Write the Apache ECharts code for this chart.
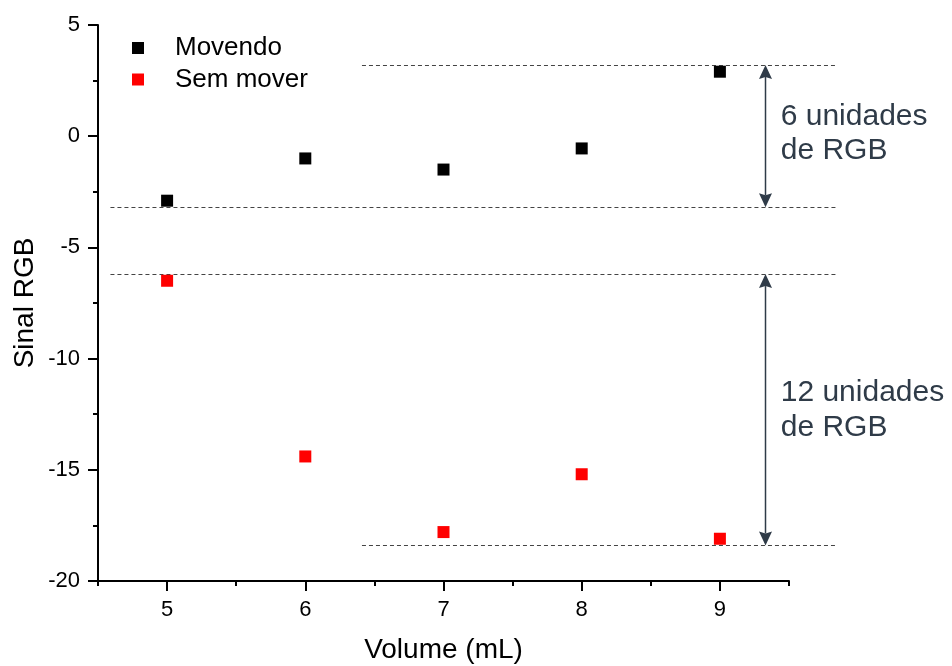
<!DOCTYPE html>
<html>
<head>
<meta charset="utf-8">
<script src="https://cdn.jsdelivr.net/npm/echarts@6/dist/echarts.min.js"></script>
<style>html,body{margin:0;padding:0;background:#fff}#c{width:952px;height:666px}</style>
</head>
<body>
<div id="c"></div>
<script>
// ---- data ----
const volumes = [5, 6, 7, 8, 9];
const movendo = [-2.9, -1.0, -1.5, -0.55, 2.9];
const semMover = [-6.5, -14.4, -17.8, -15.2, -18.1];
const xTickLabels = [5, 6, 7, 8, 9];
const yTicks = [-20, -15, -10, -5, 0, 5];
// reference (dashed) lines: [xStart, xEnd, y]
const refLines = [
  [6.41, 9.84, 3.2],
  [4.59, 9.84, -3.2],
  [4.59, 9.84, -6.2],
  [6.41, 9.84, -18.4]
];
// double arrows: [x, yTop, yBottom]
const arrows = [
  [9.33, 3.2, -3.2],
  [9.33, -6.2, -18.4]
];
// annotation texts: [x, y, text]
const notes = [
  [9.44, 0.1, '6 unidades\nde RGB'],
  [9.44, -12.32, '12 unidades\nde RGB']
];

const FONT = 'Liberation Sans';
const annColor = '#2f3b48';

const series = [
  {
    name: 'Movendo', type: 'scatter', symbol: 'rect', symbolSize: 12,
    itemStyle: {color: '#000', opacity: 1}, z: 5,
    data: volumes.map((v, i) => [v, movendo[i]])
  },
  {
    name: 'Sem mover', type: 'scatter', symbol: 'rect', symbolSize: 12,
    itemStyle: {color: '#ff0000', opacity: 1}, z: 5,
    data: volumes.map((v, i) => [v, semMover[i]])
  },
  {
    name: 'refLines', type: 'custom', clip: false, silent: true, z: 2,
    data: refLines,
    renderItem: (params, api) => {
      const p1 = api.coord([api.value(0), api.value(2)]);
      const p2 = api.coord([api.value(1), api.value(2)]);
      return {
        type: 'line',
        shape: {x1: p1[0], y1: Math.round(p1[1]) + 0.5, x2: p2[0], y2: Math.round(p2[1]) + 0.5},
        style: {stroke: '#444', lineWidth: 1, lineDash: [4, 3]}
      };
    }
  },
  {
    name: 'arrows', type: 'custom', clip: false, silent: true, z: 3,
    data: arrows,
    renderItem: (params, api) => {
      const pt = api.coord([api.value(0), api.value(1)]);
      const pb = api.coord([api.value(0), api.value(2)]);
      const x = pt[0], w = 6.5, h = 14, n = 2;
      return {
        type: 'group',
        children: [
          {type: 'line', shape: {x1: x, y1: pt[1] + h - 2, x2: x, y2: pb[1] - h + 2},
           style: {stroke: annColor, lineWidth: 1.5}},
          {type: 'polygon', shape: {points: [[x, pt[1]], [x + w, pt[1] + h], [x, pt[1] + h - n], [x - w, pt[1] + h]]},
           style: {fill: annColor}},
          {type: 'polygon', shape: {points: [[x, pb[1]], [x + w, pb[1] - h], [x, pb[1] - h + n], [x - w, pb[1] - h]]},
           style: {fill: annColor}}
        ]
      };
    }
  },
  {
    name: 'notes', type: 'custom', clip: false, silent: true, z: 3,
    data: notes.map(n => ({value: [n[0], n[1]], name: n[2]})),
    renderItem: (params, api) => {
      const p = api.coord([api.value(0), api.value(1)]);
      return {
        type: 'text', x: p[0], y: p[1],
        style: {
          text: notes[params.dataIndex][2], fill: annColor,
          font: '30px "' + FONT + '"', lineHeight: 34.5,
          align: 'left', verticalAlign: 'middle'
        }
      };
    }
  }
];

const chart = echarts.init(document.getElementById('c'), null, {renderer: 'canvas'});
chart.setOption({
  animation: false,
  backgroundColor: '#fff',
  grid: {left: 98, right: 163, top: 25, bottom: 85, outerBoundsMode: 'none', containLabel: false},
  legend: {
    data: [{name: 'Movendo', icon: 'rect'}, {name: 'Sem mover', icon: 'rect'}],
    orient: 'vertical', left: 127, top: 29, itemWidth: 12, itemHeight: 12, itemGap: 3.5,
    textStyle: {fontFamily: FONT, fontSize: 26, lineHeight: 28, color: '#000', padding: [0, 0, 0, 26]}
  },
  xAxis: {
    type: 'value', min: 4.5, max: 9.5, interval: 1,
    name: 'Volume (mL)', nameLocation: 'middle', nameGap: 55, nameMoveOverlap: false,
    nameTextStyle: {fontFamily: FONT, fontSize: 28, color: '#000'},
    axisLine: {show: true, onZero: false, lineStyle: {color: '#000', width: 2}},
    axisTick: {show: true, inside: false, length: 5, lineStyle: {color: '#000', width: 2}},
    minorTick: {show: true, splitNumber: 2, length: 10, lineStyle: {color: '#000', width: 2}},
    axisLabel: {customValues: xTickLabels, margin: 18, fontFamily: FONT, fontSize: 22, color: '#000'},
    splitLine: {show: false}, minorSplitLine: {show: false}
  },
  yAxis: {
    type: 'value', min: yTicks[0], max: yTicks[yTicks.length - 1], interval: 5,
    name: 'Sinal RGB', nameLocation: 'middle', nameGap: 59, nameMoveOverlap: false,
    nameTextStyle: {fontFamily: FONT, fontSize: 28, color: '#000'},
    axisLine: {show: true, onZero: false, lineStyle: {color: '#000', width: 2}},
    axisTick: {show: true, inside: false, length: 10, lineStyle: {color: '#000', width: 2}},
    minorTick: {show: true, splitNumber: 2, length: 5, lineStyle: {color: '#000', width: 2}},
    axisLabel: {margin: 18, fontFamily: FONT, fontSize: 22, color: '#000'},
    splitLine: {show: false}
  },
  series: series
});
</script>
</body>
</html>
